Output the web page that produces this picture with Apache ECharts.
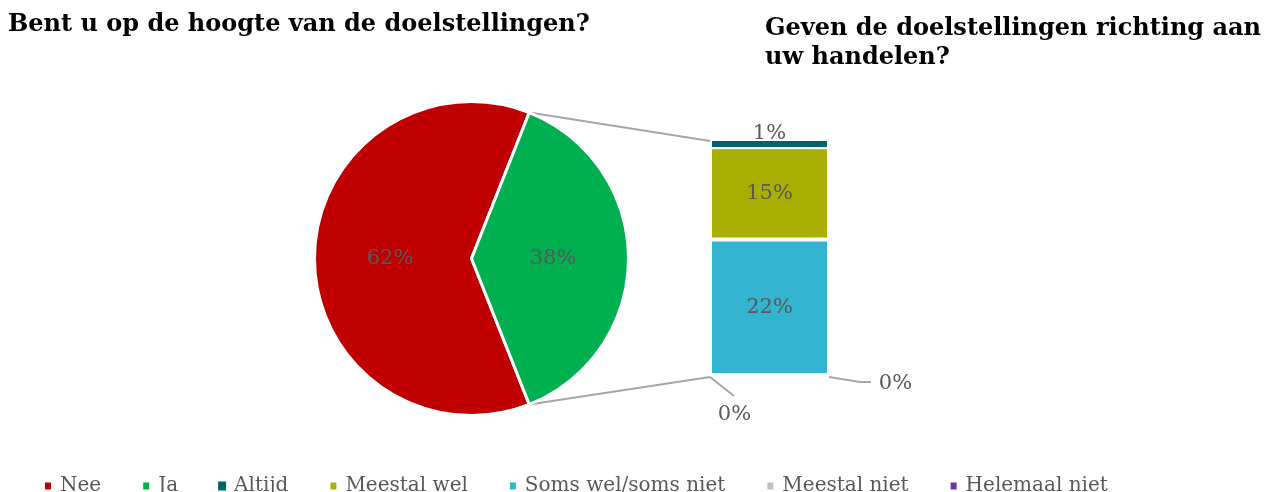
<!DOCTYPE html>
<html>
<head>
<meta charset="utf-8">
<script src="https://cdn.jsdelivr.net/npm/echarts@6/dist/echarts.min.js"></script>
<style>
html,body{margin:0;padding:0;background:#fff;}
#main{width:1266px;height:492px;}
</style>
</head>
<body>
<div id="main"></div>
<script>
// pie: Bent u op de hoogte van de doelstellingen?
const pieNames = ['Nee', 'Ja'];
const pieValues = [62, 38];
// bar: Geven de doelstellingen richting aan uw handelen? (split of "Ja")
const barNames = ['Helemaal niet', 'Meestal niet', 'Soms wel/soms niet', 'Meestal wel'];
const barValues = [0, 0, 22, 15];
const topName = 'Altijd';
const topValue = 1;
const legendOrder = ['Nee', 'Ja', 'Altijd', 'Meestal wel', 'Soms wel/soms niet', 'Meestal niet', 'Helemaal niet'];

const colors = {
  'Nee': '#C00000', 'Ja': '#00B050', 'Altijd': '#00636B', 'Meestal wel': '#A9AF00',
  'Soms wel/soms niet': '#33B4D0', 'Meestal niet': '#BFBFBF', 'Helemaal niet': '#7030A0'
};

const serif = '"DejaVu Serif", Georgia, serif';
const labelGrey = '#595959';
const leaderGrey = '#A6A6A6';
const pieCenter = [471.5, 258.5], pieR = 157;
const gridLeft = 712, gridWidth = 115, gridTop = 141, gridHeight = 234;
const bw = 2; // white edge drawn inside each bar slice

let below = barValues.reduce((a, b) => a + b, 0);
let total = below + topValue;
let jaShare = pieValues[1] / (pieValues[0] + pieValues[1]);
let startAngle = -jaShare * 180;

// 0% labels moved off the bar
const zeroShift = {'Meestal niet': {dx: 126, dy: 9}, 'Helemaal niet': {dx: -35, dy: 40}};

let myChart = echarts.init(document.getElementById('main'));

let barLabel = {show: true, position: 'inside', formatter: '{c}%',
  fontFamily: serif, fontSize: 21, color: labelGrey};

let barSeries = barNames.map(function(n, i){
  let s = {
    name: n, type: 'bar', stack: 'ja', xAxisIndex: 0,
    barWidth: gridWidth + 2 * bw, clip: false,
    data: [barValues[i]],
    itemStyle: {color: colors[n], borderColor: '#fff', borderWidth: bw},
    label: barLabel
  };
  if (zeroShift[n]) s.labelLayout = zeroShift[n];
  return s;
});
// thin top slice without white edge, on its own axis so it keeps the full width
barSeries.push({
  name: 'base', type: 'bar', stack: 'top', xAxisIndex: 1, barWidth: gridWidth,
  data: [below], itemStyle: {color: 'transparent'}, silent: true, z: 1
});
barSeries.push({
  name: topName, type: 'bar', stack: 'top', xAxisIndex: 1, barWidth: gridWidth,
  data: [topValue], itemStyle: {color: colors[topName]}, z: 1,
  label: Object.assign({}, barLabel, {position: 'top', distance: -3})
});

let option = {
  animation: false,
  title: [
    {text: 'Bent u op de hoogte van de doelstellingen?', left: 8, top: 13, padding: 0,
      textStyle: {fontFamily: serif, fontSize: 24, fontWeight: 'bold', color: '#000'}},
    {text: 'Geven de doelstellingen richting aan\nuw handelen?', left: 765, top: 14, padding: 0,
      textStyle: {fontFamily: serif, fontSize: 24, fontWeight: 'bold', color: '#000', lineHeight: 29}}
  ],
  legend: {
    data: legendOrder,
    left: 38, top: 471,
    itemGap: 40, itemWidth: 8, itemHeight: 9, icon: 'rect',
    textStyle: {fontFamily: serif, fontSize: 20, color: labelGrey, padding: [0, 0, 0, 3]}
  },
  grid: {left: gridLeft, top: gridTop, width: gridWidth, height: gridHeight},
  xAxis: [
    {type: 'category', data: ['Ja'], show: false},
    {type: 'category', data: ['Ja'], show: false}
  ],
  yAxis: {type: 'value', min: 0, max: total, show: false},
  series: [{
    type: 'pie',
    center: pieCenter,
    radius: pieR,
    startAngle: startAngle,
    clockwise: true,
    data: pieNames.map((n, i) => ({name: n, value: pieValues[i], itemStyle: {color: colors[n]}})),
    itemStyle: {borderColor: '#fff', borderWidth: 3},
    label: {show: true, position: 'inside', formatter: '{c}%',
      fontFamily: serif, fontSize: 21, color: labelGrey},
    labelLine: {show: false}
  }].concat(barSeries)
};
myChart.setOption(option);

// connector lines between the "Ja" slice and the bar, plus leaders of the 0% labels
let a = jaShare * Math.PI;
let pTop = [pieCenter[0] + pieR * Math.cos(a), pieCenter[1] - pieR * Math.sin(a)];
let pBot = [pieCenter[0] + pieR * Math.cos(a), pieCenter[1] + pieR * Math.sin(a)];
let yTop = myChart.convertToPixel({yAxisIndex: 0}, total);
let yBot = myChart.convertToPixel({yAxisIndex: 0}, 0);
let xRight = gridLeft + gridWidth;
let lineStyle = {stroke: leaderGrey, lineWidth: 2, fill: null};
myChart.setOption({
  graphic: [
    {type: 'line', shape: {x1: pTop[0], y1: pTop[1], x2: gridLeft - 2, y2: yTop}, style: lineStyle, z: 0},
    {type: 'line', shape: {x1: pBot[0], y1: pBot[1], x2: gridLeft - 2, y2: yBot + 2}, style: lineStyle, z: 0},
    {type: 'polyline', shape: {points: [[gridLeft - 2, yBot + 2], [gridLeft + 22, yBot + 21]]}, style: lineStyle},
    {type: 'polyline', shape: {points: [[xRight + 2, yBot + 2], [xRight + 33, yBot + 7], [xRight + 44, yBot + 7]]}, style: lineStyle}
  ]
});
</script>
</body>
</html>
